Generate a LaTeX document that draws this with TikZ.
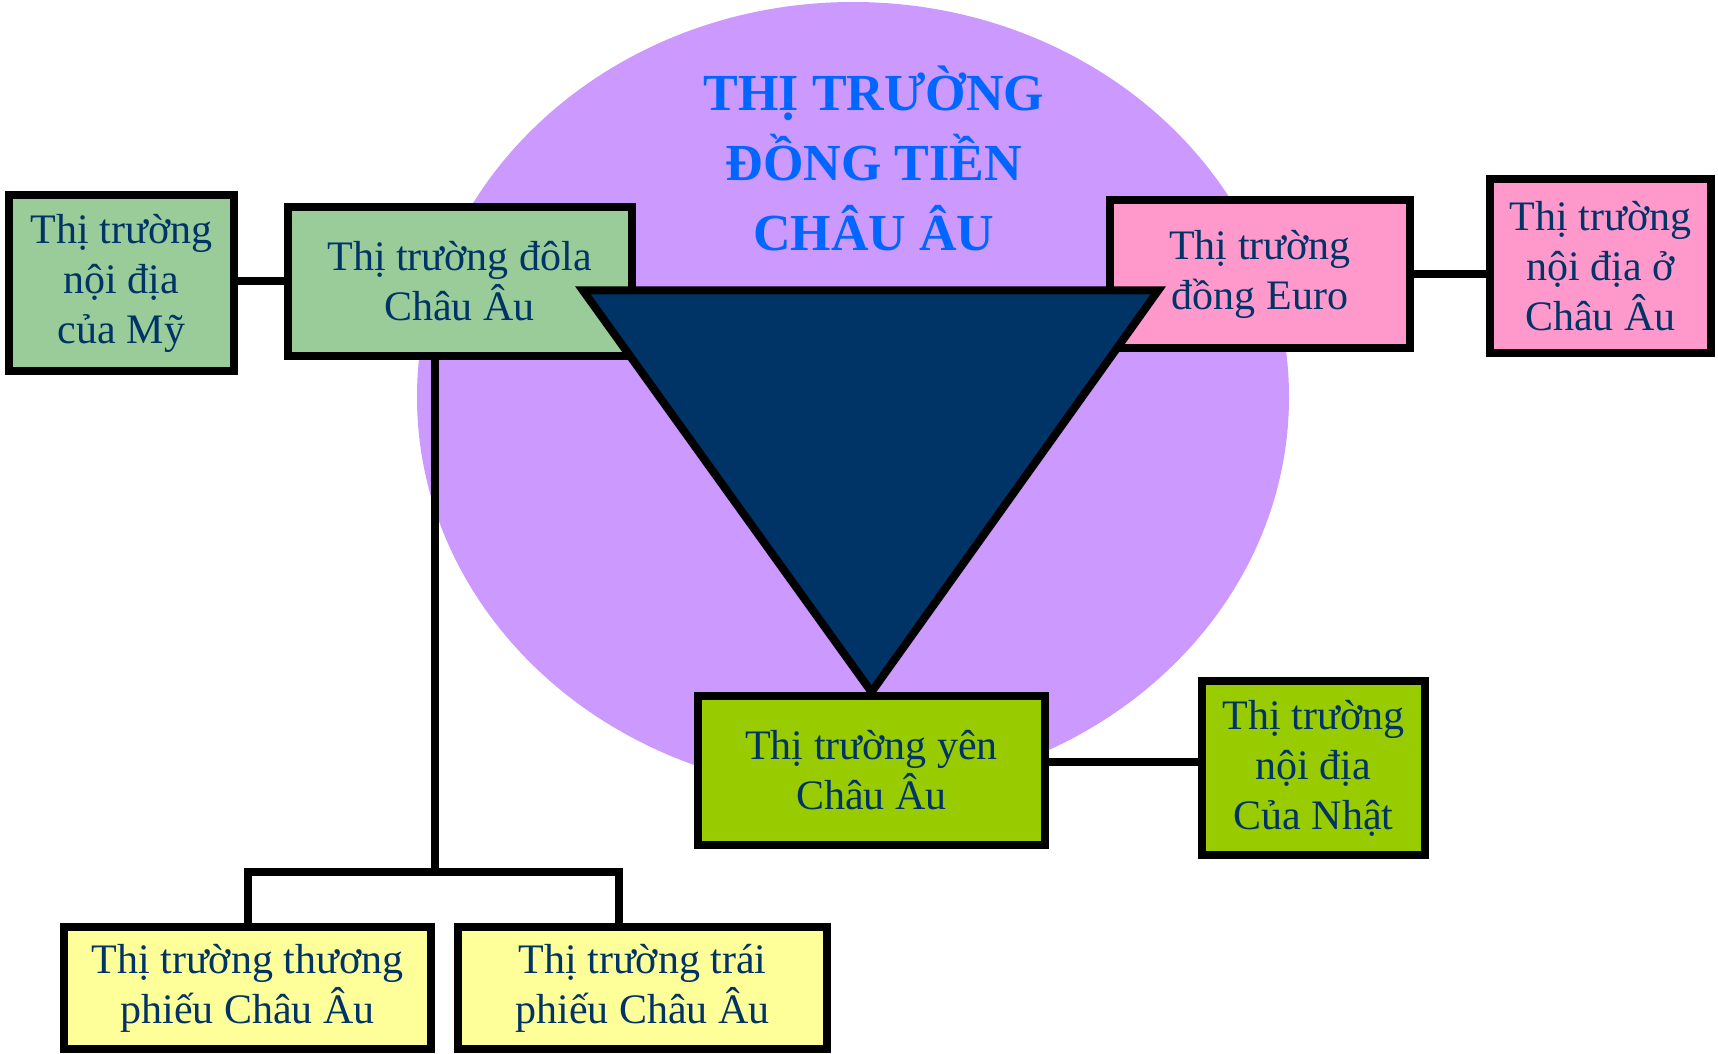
\documentclass[tikz,border=0pt]{standalone}
\usepackage{fontspec}
\setmainfont{Liberation Serif}
\usetikzlibrary{calc}
\definecolor{lav}{HTML}{CC99FF}
\definecolor{navy}{HTML}{003366}
\definecolor{titleblue}{HTML}{0066FF}
\definecolor{sage}{HTML}{99CC99}
\definecolor{pinkb}{HTML}{FF99CC}
\definecolor{lime}{HTML}{99CC00}
\definecolor{paleyellow}{HTML}{FFFF99}
\begin{document}
\begin{tikzpicture}[x=1pt,y=-1pt,
  box/.style={draw=black, line width=8pt, align=center, inner sep=0pt,
    font=\fontsize{42}{50}\selectfont, text=navy},
  link/.style={draw=black, line width=8pt}]
\useasboundingbox (0,0) rectangle (1718,1054);
% background circle
\fill[lav] (853,397) ellipse [x radius=436, y radius=395];
% title
\node[font=\fontsize{52}{70}\selectfont\bfseries, text=titleblue, align=center] (title) at (874,158)
  {THỊ TRƯỜNG\\ĐỒNG TIỀN\\CHÂU ÂU};
% boxes
\node[box, fill=sage, minimum width=225, minimum height=176] (A) at (121.5,283) {Thị trường\\nội địa\\của Mỹ};
\node[box, fill=sage, minimum width=344, minimum height=149] (B) at (459.5,281.5) {Thị trường đôla\\Châu Âu};
\node[box, fill=pinkb, minimum width=300, minimum height=148] (C) at (1260,274) {Thị trường\\đồng Euro};
\node[box, fill=pinkb, minimum width=221, minimum height=174] (D) at (1600.5,266) {Thị trường\\nội địa ở\\Châu Âu};
\node[box, fill=lime, minimum width=347, minimum height=149] (E) at (871.5,770.5) {Thị trường yên\\Châu Âu};
\node[box, fill=lime, minimum width=223, minimum height=174] (F) at (1313.5,768) {Thị trường\\nội địa\\Của Nhật};
\node[box, fill=paleyellow, minimum width=367, minimum height=122] (G) at (247.5,988) {Thị trường thương\\phiếu Châu Âu};
\node[box, fill=paleyellow, minimum width=369, minimum height=122] (H) at (642.5,988) {Thị trường trái\\phiếu Châu Âu};
% connectors
\coordinate (trunk) at (434.5,872);
\draw[link] ([yshift=2.5pt]A.east) -- ([yshift=2.5pt]A.east -| B.west);
\draw[link] (C.east) -- (C.east -| D.west);
\draw[link] ([yshift=9pt]E.east) -- ([yshift=9pt]E.east -| F.west);
\draw[link] (B.south -| trunk) -- (trunk);
\draw[link] (G.north) |- (trunk) -| ([xshift=-23.5pt]H.north);
% triangle
\coordinate (tl) at (582.9,290.4);
\coordinate (tr) at (1158.2,290.4);
\draw[fill=navy, line width=8pt, line join=miter] (tl) -- (tr) -- (E.north) -- cycle;
\end{tikzpicture}
\end{document}
